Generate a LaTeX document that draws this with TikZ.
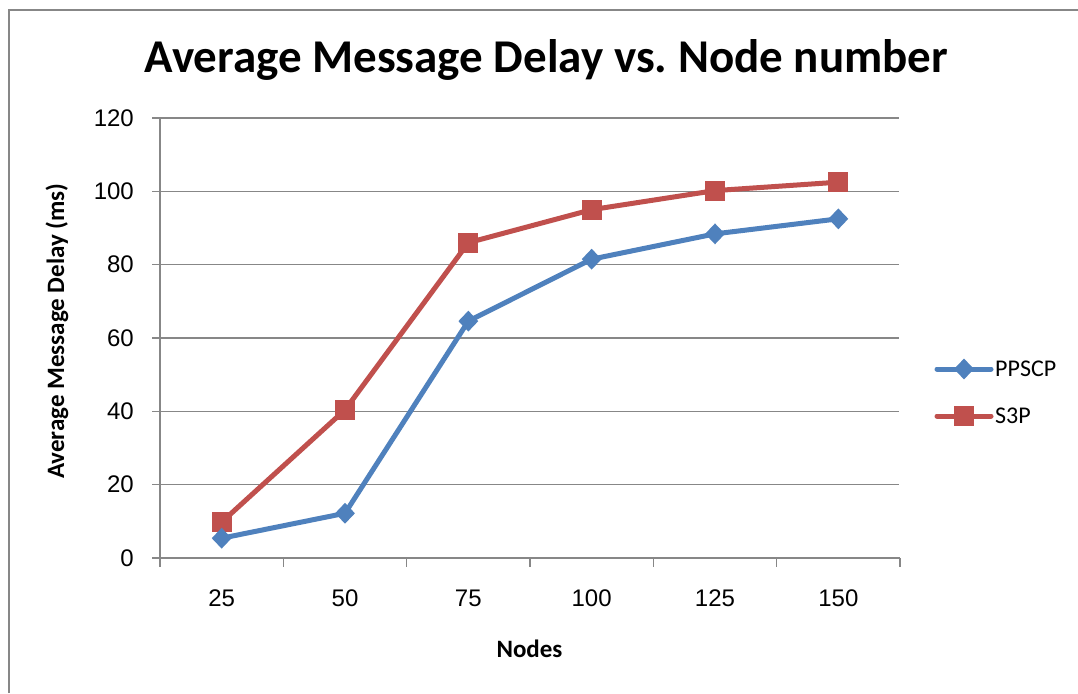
\documentclass[tikz,border=0pt]{standalone}
\usepackage{fontspec}
\setmainfont{Carlito}
\newfontfamily\arialfont{Liberation Sans}
\usetikzlibrary{shapes.geometric}
\definecolor{serblue}{HTML}{4F81BD}
\definecolor{serred}{HTML}{C0504D}
\definecolor{gridgray}{HTML}{878787}
\tikzset{
  gridline/.style={draw=gridgray, line width=1.6pt},
  axisline/.style={draw=gridgray, line width=1.6pt},
  ticklabel/.style={font=\arialfont\fontsize{24}{28}\selectfont, inner sep=0pt},
  seriesblue/.style={draw=serblue, line width=5pt, line join=round},
  seriesred/.style={draw=serred, line width=5pt, line join=round},
  diamondmark/.style={diamond, fill=serblue, draw=none, inner sep=0pt, minimum width=20pt, minimum height=21pt},
  squaremark/.style={rectangle, fill=serred, draw=none, inner sep=0pt, minimum size=20pt},
  legendtext/.style={font=\fontsize{24}{28}\selectfont, anchor=west, inner sep=0pt},
  axistitle/.style={font=\bfseries\fontsize{25}{30}\selectfont, inner sep=0pt},
}
\begin{document}
\begin{tikzpicture}[x=1pt,y=-1pt]
\useasboundingbox (0,0) rectangle (1078,693);
\fill[white] (0,0) rectangle (1078,693);
% outer chart frame (left and top edges)
\draw[draw=gridgray, line width=2pt] (9,693) -- (9,10) -- (1078,10);
% title
\node[anchor=base, font=\bfseries\fontsize{47}{52}\selectfont, inner sep=0pt] (title) at (546.5,72) {Average Message Delay vs.\ Node number};
% horizontal grid lines and value labels (11/3 pt per unit)
\foreach \v in {0,20,40,60,80,100,120}{
  \pgfmathsetmacro{\yy}{558-\v*11/3}
  \ifnum\v>0
    \draw[gridline] (152,\yy) -- (899,\yy);
  \else
    \draw[axisline] (152,\yy) -- (900,\yy);
  \fi
  \node[ticklabel, anchor=east] (ylab\v) at (134,\yy) {\v};
}
% vertical axis
\draw[axisline] (160,118) -- (160,558);
% category ticks
\foreach \i in {0,...,6}{
  \pgfmathsetmacro{\xx}{160+\i*740/6}
  \draw[axisline] (\xx,558) -- (\xx,567);
}
% category labels
\foreach \c [count=\i from 0] in {25,50,75,100,125,150}{
  \pgfmathsetmacro{\xx}{160+(\i+0.5)*740/6}
  \node[ticklabel] (xlab\c) at (\xx,598) {\c};
}
% axis titles
\node[axistitle] (xtitle) at (529.5,649) {Nodes};
\node[axistitle, rotate=90] (ytitle) at (57,331) {Average Message Delay (ms)};
% data points
\foreach \c/\b/\r [count=\i from 0] in {25/5.4/9.8, 50/12.2/40.4, 75/64.6/86.0, 100/81.5/95.0, 125/88.4/100.2, 150/92.5/102.5}{
  \pgfmathsetmacro{\xx}{160+(\i+0.5)*740/6}
  \pgfmathsetmacro{\yb}{558-\b*11/3}
  \pgfmathsetmacro{\yr}{558-\r*11/3}
  \coordinate (b\c) at (\xx,\yb);
  \coordinate (r\c) at (\xx,\yr);
}
% series lines
\draw[seriesred] (r25) -- (r50) -- (r75) -- (r100) -- (r125) -- (r150);
\draw[seriesblue] (b25) -- (b50) -- (b75) -- (b100) -- (b125) -- (b150);
% markers
\foreach \c in {25,50,75,100,125,150}{
  \node[squaremark] (rm\c) at (r\c) {};
}
\foreach \c in {25,50,75,100,125,150}{
  \node[diamondmark] (bm\c) at (b\c) {};
}
% legend
\coordinate (lgb1) at (937,369);
\coordinate (lgb2) at (991,369);
\coordinate (lgr1) at (937,416);
\coordinate (lgr2) at (991,416);
\draw[seriesblue, line cap=round] (lgb1) -- (lgb2);
\node[diamondmark] (lgbm) at (964,369) {};
\draw[seriesred, line cap=round] (lgr1) -- (lgr2);
\node[squaremark] (lgrm) at (964,416) {};
\node[legendtext] (lgbt) at (995,369) {PPSCP};
\node[legendtext] (lgrt) at (995,416) {S3P};
\end{tikzpicture}
\end{document}
